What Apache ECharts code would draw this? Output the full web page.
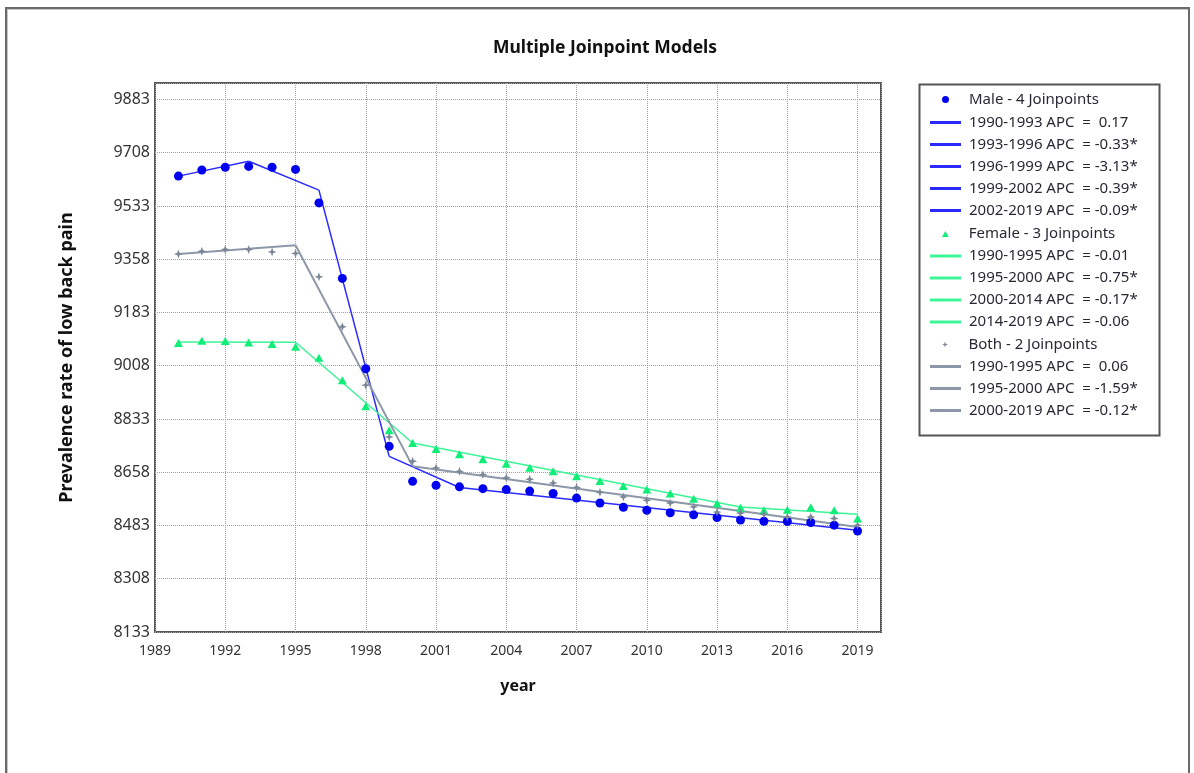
<!DOCTYPE html>
<html>
<head>
<meta charset="utf-8">
<script src="https://cdn.jsdelivr.net/npm/echarts@6/dist/echarts.min.js"></script>
<style>
  html, body { margin: 0; padding: 0; background: #fff; }
  #chart { position: absolute; left: 0; top: 0; width: 1194px; height: 773px; }
  #frame { position: absolute; left: 5px; top: 7px; width: 1181px; height: 820px;
           border: 2px solid #6a6a6a; box-shadow: inset 1px 1px 0 #c8c8c8; pointer-events: none; }
</style>
</head>
<body>
<div id="chart"></div>
<div id="frame"></div>
<script>
// ---- data ----
const years = [1990,1991,1992,1993,1994,1995,1996,1997,1998,1999,2000,2001,2002,2003,2004,2005,2006,2007,2008,2009,2010,2011,2012,2013,2014,2015,2016,2017,2018,2019];
const maleObs   = [9631,9651,9660,9663,9660,9653,9543,9295,8998,8743,8628,8615,8610,8604,8601,8596,8588,8573,8557,8543,8533,8525,8518,8509,8501,8497,8496,8493,8484,8465];
const femaleObs = [9083,9090,9089,9084,9079,9070,9034,8960,8875,8796,8754,8734,8717,8701,8686,8673,8661,8645,8629,8613,8601,8588,8571,8555,8541,8533,8535,8543,8533,8506];
const bothObs   = [9375,9384,9390,9390,9382,9377,9300,9136,8944,8774,8694,8672,8661,8650,8640,8635,8623,8608,8592,8577,8566,8557,8544,8527,8524,8520,8511,8511,8506,8484];

const maleJoinYears   = [1990,1993,1996,1999,2002,2019];
const maleJoinFit     = [9631,9680,9585,8710,8608,8467];
const femaleJoinYears = [1990,1995,2000,2014,2019];
const femaleJoinFit   = [9086,9085,8754,8544,8520];
const bothJoinYears   = [1990,1995,2000,2019];
const bothJoinFit     = [9375,9404,8678,8478];

const maleName   = 'Male - 4 Joinpoints';
const femaleName = 'Female - 3 Joinpoints';
const bothName   = 'Both - 2 Joinpoints';
const maleSegLabels   = ['1990-1993 APC  =  0.17','1993-1996 APC  = -0.33*','1996-1999 APC  = -3.13*','1999-2002 APC  = -0.39*','2002-2019 APC  = -0.09*'];
const femaleSegLabels = ['1990-1995 APC  = -0.01','1995-2000 APC  = -0.75*','2000-2014 APC  = -0.17*','2014-2019 APC  = -0.06'];
const bothSegLabels   = ['1990-1995 APC  =  0.06','1995-2000 APC  = -1.59*','2000-2019 APC  = -0.12*'];

const xMin = 1989, xMax = 2020, xStep = 3;
const yMin = 8133, yMax = 9937, yStep = 175;

// ---- styles ----
const maleColor = '#0000f0', maleLine = '#2a2aff';
const femaleColor = '#10ee78', femaleLine = '#3cf596';
const bothColor = '#7c8897', bothLine = '#8c98a8';
const starPath = 'path://M5,0 L6.3,3.7 L10,5 L6.3,6.3 L5,10 L3.7,6.3 L0,5 L3.7,3.7 Z';
const triPath = 'path://M5,0 L10,9 L0,9 Z';
const barPath = 'path://M0,0 L31,0 L31,3 L0,3 Z';

function segSeries(joinYears, fit, labels, color, width) {
  return labels.map((lab, i) => ({
    name: lab, type: 'line', symbol: 'none', z: 2,
    lineStyle: { color: color, width: width },
    itemStyle: { color: color },
    data: [[joinYears[i], fit[i]], [joinYears[i+1], fit[i+1]]]
  }));
}
function obsSeries(name, vals, symbol, size, color) {
  return { name: name, type: 'scatter', symbol: symbol, symbolSize: size, z: 3,
    itemStyle: { color: color, opacity: 1 },
    data: years.map((y, i) => [y, vals[i]]) };
}

const series = [].concat(
  [obsSeries(maleName, maleObs, 'circle', 9, maleColor)],
  segSeries(maleJoinYears, maleJoinFit, maleSegLabels, maleLine, 1.5),
  [obsSeries(femaleName, femaleObs, triPath, [9, 8], femaleColor)],
  segSeries(femaleJoinYears, femaleJoinFit, femaleSegLabels, femaleLine, 1.5),
  [obsSeries(bothName, bothObs, starPath, 9, bothColor)],
  segSeries(bothJoinYears, bothJoinFit, bothSegLabels, bothLine, 2)
);

const legendText = { fontFamily: 'Noto Sans', fontSize: 15, color: '#2b2735', lineHeight: 14 };
function headLegend(name, icon, top, h) {
  return { orient: 'vertical', left: 942, top: top, padding: 0, selectedMode: false,
    itemWidth: 7, itemHeight: h, symbolKeepAspect: true,
    textStyle: Object.assign({}, legendText, { padding: [0, 0, 0, 15] }),
    data: [{ name: name, icon: icon }] };
}
function segLegend(labels, top) {
  return { orient: 'vertical', left: 930, top: top, padding: 0, selectedMode: false,
    itemWidth: 31, itemHeight: 14, itemGap: 7, symbolKeepAspect: true,
    textStyle: Object.assign({}, legendText, { padding: [0, 0, 0, 3] }),
    data: labels.map(l => ({ name: l, icon: barPath })) };
}

const chart = echarts.init(document.getElementById('chart'), null, { renderer: 'canvas' });
chart.setOption({
  animation: false,
  backgroundColor: '#ffffff',
  title: { text: 'Multiple Joinpoint Models', left: 600, top: 34, textAlign: 'center',
    textStyle: { fontFamily: 'Noto Sans', fontWeight: 'bold', fontSize: 17.5, color: '#111' } },
  grid: { left: 155, right: 313, top: 83, bottom: 141, show: true,
    borderColor: '#555', borderWidth: 2, containLabel: false },
  legend: [
    headLegend(maleName, 'circle', 92, 7),
    segLegend(maleSegLabels, 115),
    headLegend(femaleName, triPath, 226.5, 6),
    segLegend(femaleSegLabels, 248.5),
    headLegend(bothName, starPath, 337, 6),
    segLegend(bothSegLabels, 359)
  ],
  graphic: [{ type: 'rect', left: 917, top: 82, shape: { width: 240, height: 351 },
    style: { fill: 'none', stroke: '#555', lineWidth: 2 }, z: 0, silent: true }],
  xAxis: {
    type: 'value', min: xMin, max: xMax, interval: xStep,
    name: 'year', nameLocation: 'middle', nameGap: 46,
    nameTextStyle: { fontFamily: 'Noto Sans', fontWeight: 'bold', fontSize: 16, color: '#111' },
    axisLine: { show: false }, axisTick: { show: false },
    axisLabel: { fontFamily: 'Noto Sans', fontSize: 14, color: '#333', margin: 12,
      formatter: v => (v > 2019 ? '' : String(v)) },
    splitLine: { show: true, lineStyle: { color: '#a0a0a0', type: [1, 1], width: 1 } }
  },
  yAxis: {
    type: 'value', min: yMin, max: yMax, interval: yStep,
    name: 'Prevalence rate of low back pain', nameLocation: 'middle', nameGap: 79,
    nameTextStyle: { fontFamily: 'Noto Sans', fontWeight: 'bold', fontSize: 18, color: '#111' },
    axisLine: { show: false }, axisTick: { show: false },
    axisLabel: { fontFamily: 'Noto Sans', fontSize: 16, color: '#333', margin: 5,
      formatter: v => (v > 9883 ? '' : String(v)) },
    splitLine: { show: true, lineStyle: { color: '#a0a0a0', type: [1, 1], width: 1 } }
  },
  series: series
});
</script>
</body>
</html>
